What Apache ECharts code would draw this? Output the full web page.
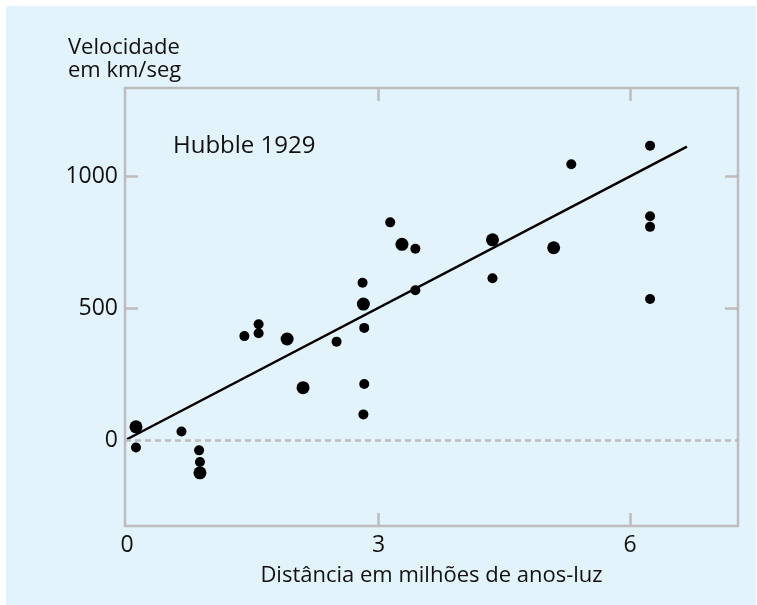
<!DOCTYPE html>
<html>
<head>
<meta charset="utf-8">
<script src="https://cdn.jsdelivr.net/npm/echarts@6/dist/echarts.min.js"></script>
<style>
  html, body { margin: 0; padding: 0; background: #ffffff; }
  #bg { position: absolute; left: 6px; top: 6px; width: 750px; height: 599px; background: #e3f3fc; }
  #chart { position: absolute; left: 0; top: 0; width: 757px; height: 605px; }
</style>
</head>
<body>
<div id="bg"></div>
<div id="chart"></div>
<script>
// ---- data (distance in millions of light-years, velocity in km/s) ----
const smallX = [0.107, 0.65, 0.86, 0.87, 1.40, 1.57, 1.57, 2.50, 2.81, 2.83, 2.83, 2.82, 3.14, 3.44, 3.44, 4.36, 5.30, 6.24, 6.24, 6.24, 6.24];
const smallY = [-26,   34,   -37,  -81,  395,  440,  406,  374,  597,  426,  214,  99,   825,  725,  568,  614,  1045, 1115, 848,  808,  535];
const bigX = [0.107, 0.87, 1.91, 2.10, 2.82, 3.28, 4.36, 5.09];
const bigY = [52,    -122, 384,  200,  516,  742,  759,  729];
const fitX = [0.0, 6.68];
const fitY = [5, 1111];
const xLabelValues = [0, 3, 6];
const xTickValues = [3, 6];
const yLabelValues = [0, 500, 1000];
const yTickValues = [500, 1000];

const yTitle = ['Velocidade', 'em km/seg'];
const xTitle = 'Distância em milhões de anos-luz';
const plotTitle = 'Hubble 1929';

const FONT = '"Open Sans", "Noto Sans", sans-serif';
const GRAY = '#bdbdbd';

const zip = (a, b) => a.map((v, i) => [v, b[i]]);

const tickStyle = (vals) => ({
  show: true, inside: true, length: 13, customValues: vals,
  lineStyle: { color: GRAY, width: 2.5 }
});
const noLine = { show: false, onZero: false };

const chart = echarts.init(document.getElementById('chart'), null, { renderer: 'canvas' });
chart.setOption({
  backgroundColor: 'transparent',
  animation: false,
  grid: {
    left: 125, top: 88, right: 19, bottom: 79,
    show: true, borderColor: GRAY, borderWidth: 2.5, backgroundColor: 'transparent'
  },
  xAxis: [
    {
      type: 'value', position: 'bottom', min: -0.024, max: 7.289,
      axisLine: noLine, splitLine: { show: false },
      axisTick: tickStyle(xTickValues),
      axisLabel: { customValues: xLabelValues, formatter: (v) => String(v), color: '#111', fontSize: 23, fontFamily: FONT, margin: 8 },
      name: xTitle, nameLocation: 'middle', nameGap: 39,
      nameTextStyle: { color: '#111', fontSize: 22, fontFamily: FONT }
    },
    {
      type: 'value', position: 'top', min: -0.024, max: 7.289,
      axisLine: noLine, splitLine: { show: false },
      axisTick: tickStyle(xTickValues),
      axisLabel: { show: false }
    }
  ],
  yAxis: [
    {
      type: 'value', position: 'left', min: -323, max: 1333,
      axisLine: noLine, splitLine: { show: false },
      axisTick: tickStyle(yTickValues),
      axisLabel: { customValues: yLabelValues, formatter: (v) => String(v), color: '#111', fontSize: 23, fontFamily: FONT, margin: 7 }
    },
    {
      type: 'value', position: 'right', min: -323, max: 1333,
      axisLine: noLine, splitLine: { show: false },
      axisTick: tickStyle(yTickValues),
      axisLabel: { show: false }
    }
  ],
  graphic: [
    { type: 'text', style: { x: 68, y: 48, text: yTitle[0], fill: '#111', font: '22px ' + FONT, align: 'left', verticalAlign: 'middle' } },
    { type: 'text', style: { x: 68, y: 71, text: yTitle[1], fill: '#111', font: '22px ' + FONT, align: 'left', verticalAlign: 'middle' } },
    { type: 'text', style: { x: 173, y: 146, text: plotTitle, fill: '#111', font: '24px ' + FONT, align: 'left', verticalAlign: 'middle' } }
  ],
  series: [
    {
      type: 'line', data: zip(fitX, fitY), symbol: 'none',
      lineStyle: { color: '#000', width: 2.5 }, z: 3,
      markLine: {
        silent: true, symbol: 'none', label: { show: false },
        emphasis: { disabled: true },
        lineStyle: { color: GRAY, type: [6, 4], width: 2.5, opacity: 1 },
        data: [{ yAxis: 0 }]
      }
    },
    { type: 'scatter', data: zip(smallX, smallY), symbolSize: 10, itemStyle: { color: '#000', opacity: 1 }, z: 4 },
    { type: 'scatter', data: zip(bigX, bigY), symbolSize: 13, itemStyle: { color: '#000', opacity: 1 }, z: 4 }
  ]
});
</script>
</body>
</html>
